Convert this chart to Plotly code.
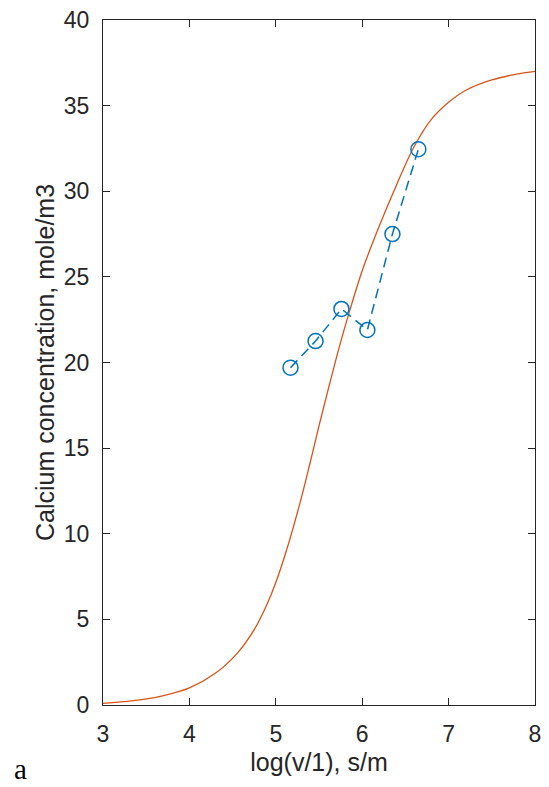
import plotly.graph_objects as go

# Fitted curve
curve_x = [3.0, 3.35, 3.7, 4.0, 4.3, 4.55, 4.75, 4.9, 5.0, 5.14, 5.28, 5.39,
           5.5, 5.6, 5.74, 5.86, 6.01, 6.2, 6.4, 6.6, 6.8, 7.0, 7.2, 7.5, 7.8, 8.0]
curve_y = [0.1, 0.25, 0.55, 1.0, 1.85, 3.0, 4.4, 5.9, 7.15, 9.3, 11.8, 14.0,
           16.3, 18.3, 21.0, 23.1, 25.5, 28.0, 30.4, 32.6, 34.2, 35.2, 35.9, 36.5, 36.85, 37.0]

# Measured points
meas_x = [5.17, 5.46, 5.76, 6.06, 6.35, 6.65]
meas_y = [19.7, 21.25, 23.13, 21.9, 27.5, 32.45]

x_ticks = [3, 4, 5, 6, 7, 8]
y_ticks = [0, 5, 10, 15, 20, 25, 30, 35, 40]

W, H = 549, 787
ml, mr, mt, mb = 103.3, 7.5, 17.5, 81.5

fig = go.Figure()
fig.add_trace(go.Scatter(
    x=curve_x, y=curve_y, mode="lines",
    line=dict(color="#D95319", width=1.3, shape="spline", smoothing=1.0),
    hoverinfo="skip", showlegend=False))
fig.add_trace(go.Scatter(
    x=meas_x, y=meas_y, mode="lines+markers",
    line=dict(color="#0072BD", width=1.5, dash="10px,6px"),
    marker=dict(symbol="circle-open", size=15, color="#0072BD",
                line=dict(width=1.5, color="#0072BD")),
    showlegend=False))

axis_common = dict(
    showgrid=False, zeroline=False, showline=True, mirror="ticks",
    linecolor="#262626", linewidth=1, ticks="inside", ticklen=7,
    tickcolor="#262626", tickwidth=1,
    tickfont=dict(family="Liberation Sans, Arial", size=23, color="#262626"),
)

fig.update_layout(
    width=W, height=H,
    margin=dict(l=ml, r=mr, t=mt, b=mb, pad=0),
    paper_bgcolor="white", plot_bgcolor="white",
    xaxis=dict(range=[3, 8], tickvals=x_ticks, ticktext=[str(v) for v in x_ticks],
               ticklabelstandoff=8,
               title=dict(text="log(v/1), s/m", standoff=7,
                          font=dict(family="Liberation Sans, Arial", size=25, color="#262626")),
               **axis_common),
    yaxis=dict(range=[0, 40], tickvals=y_ticks, ticktext=[str(v) for v in y_ticks],
               ticklabelstandoff=8,
               title=dict(text="Calcium concentration, mole/m3", standoff=2,
                          font=dict(family="Liberation Sans, Arial", size=25, color="#262626")),
               **axis_common),
    annotations=[dict(
        text="a", xref="paper", yref="paper",
        x=(12 - ml) / (W - ml - mr), y=(H - mb - 787) / (H - mt - mb),
        xanchor="left", yanchor="bottom", showarrow=False, borderpad=0,
        font=dict(family="Liberation Serif, Times New Roman", size=29, color="black"))],
)

fig.write_html("out.html")
